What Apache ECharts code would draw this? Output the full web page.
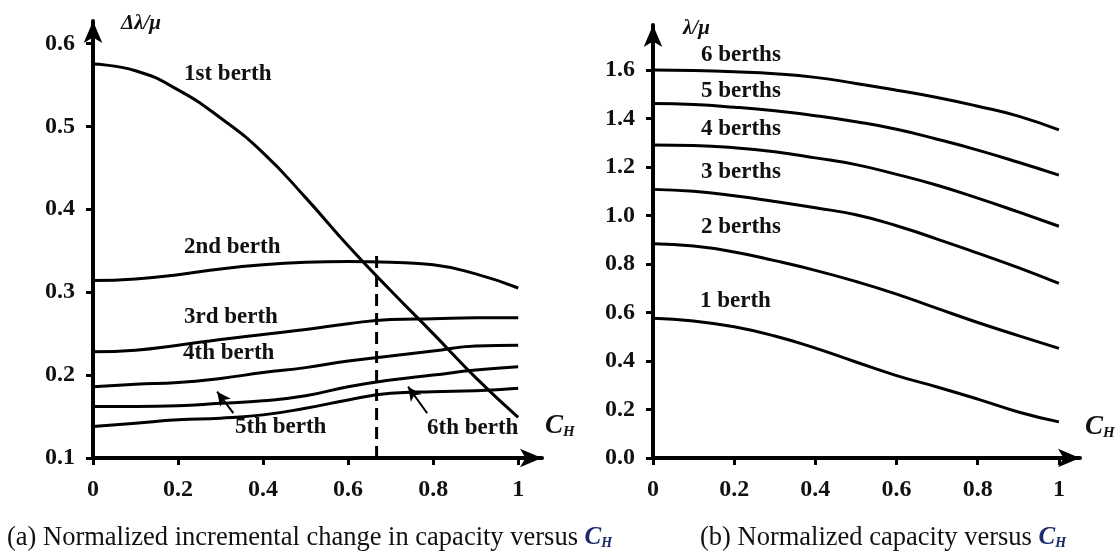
<!DOCTYPE html>
<html>
<head>
<meta charset="utf-8">
<script src="https://cdn.jsdelivr.net/npm/echarts@6/dist/echarts.min.js"></script>
<style>
    html, body { margin: 0; padding: 0; background: #fff; }
    #chart { width: 1120px; height: 554px; }
</style>
</head>
<body>
<div id="chart"></div>
<script>
// C_H sample points
var cH = [0, 0.1, 0.2, 0.3, 0.4, 0.5, 0.6, 0.7, 0.8, 0.9, 1];

// (a) normalized incremental change in capacity
var incr1st = [0.575, 0.567, 0.544, 0.51, 0.468, 0.414, 0.356, 0.302, 0.25, 0.197, 0.149];
var incr2nd = [0.314, 0.316, 0.321, 0.328, 0.333, 0.336, 0.337, 0.336, 0.333, 0.322, 0.305];
var incr3rd = [0.228, 0.23, 0.236, 0.243, 0.249, 0.255, 0.262, 0.267, 0.268, 0.269, 0.269];
var incr4th = [0.186, 0.189, 0.191, 0.196, 0.203, 0.209, 0.217, 0.223, 0.229, 0.235, 0.236];
var incr5th = [0.162, 0.162, 0.163, 0.166, 0.169, 0.175, 0.186, 0.194, 0.2, 0.206, 0.21];
var incr6th = [0.138, 0.142, 0.146, 0.148, 0.152, 0.16, 0.17, 0.178, 0.18, 0.181, 0.184];

// dashed cut at C_H = 2/3
var cutX = [0.667, 0.667];
var cutY = [0.1, 0.347];

// pointer arrows for 5th / 6th berth labels [tail, tip]
var arrow5th = [[0.33, 0.154], [0.292, 0.18]];
var arrow6th = [[0.786, 0.154], [0.741, 0.186]];

// (b) normalized capacity
var cap1 = [0.576, 0.565, 0.541, 0.503, 0.453, 0.396, 0.34, 0.293, 0.243, 0.19, 0.149];
var cap2 = [0.884, 0.874, 0.85, 0.814, 0.774, 0.728, 0.676, 0.617, 0.559, 0.505, 0.452];
var cap3 = [1.108, 1.1, 1.082, 1.058, 1.032, 1.003, 0.958, 0.903, 0.845, 0.785, 0.72];
var cap4 = [1.291, 1.289, 1.28, 1.263, 1.238, 1.21, 1.17, 1.125, 1.072, 1.015, 0.956];
var cap5 = [1.462, 1.458, 1.447, 1.432, 1.412, 1.387, 1.356, 1.315, 1.27, 1.22, 1.167];
var cap6 = [1.6, 1.598, 1.593, 1.585, 1.57, 1.545, 1.517, 1.487, 1.451, 1.41, 1.353];

// tick labels
var xTicks = [0, 0.2, 0.4, 0.6, 0.8, 1];
var leftYTicks = [0.1, 0.2, 0.3, 0.4, 0.5, 0.6];
var rightYTicks = [0, 0.2, 0.4, 0.6, 0.8, 1.0, 1.2, 1.4, 1.6];

var chart = echarts.init(document.getElementById("chart"));

var tickFont = {
    fontFamily: "Liberation Serif",
    fontWeight: "bold",
    fontSize: 24,
    color: "#111"
};

function pairs(ys) {
    var out = [];
    for (var i = 0; i < cH.length; i++) {
        out.push([cH[i], ys[i]]);
    }
    return out;
}

function curve(ys, idx, extra) {
    var s = {
        type: "line",
        xAxisIndex: idx,
        yAxisIndex: idx,
        data: pairs(ys),
        smooth: 0.5,
        showSymbol: false,
        lineStyle: { color: "#000", width: 3 },
        silent: true
    };
    if (extra) s.markLine = extra;
    return s;
}

function pointer(arr) {
    return {
        silent: true,
        symbol: ["none", "arrow"],
        symbolSize: [10, 14],
        label: { show: false },
        lineStyle: { color: "#000", width: 2, type: "solid" },
        data: [[{ coord: arr[0] }, { coord: arr[1] }]]
    };
}

function xAxisCfg(idx, max) {
    return {
        type: "value",
        gridIndex: idx,
        min: 0,
        max: max,
        axisLine: { lineStyle: { color: "#000", width: 4 }, symbol: ["none", "arrow"], symbolSize: [14, 22] },
        axisTick: { customValues: xTicks, length: 7, lineStyle: { color: "#000", width: 3 } },
        axisLabel: Object.assign({
            customValues: xTicks,
            margin: 20,
            formatter: function(v) { return String(v); }
        }, tickFont),
        splitLine: { show: false }
    };
}

function yAxisCfg(idx, min, max, ticks, fmt) {
    return {
        type: "value",
        gridIndex: idx,
        min: min,
        max: max,
        axisLine: { show: true, lineStyle: { color: "#000", width: 4 }, symbol: ["none", "arrow"], symbolSize: [14, 22] },
        axisTick: { show: true, customValues: ticks, length: 7, lineStyle: { color: "#000", width: 3 } },
        axisLabel: Object.assign({ customValues: ticks, margin: 18, formatter: fmt }, tickFont),
        splitLine: { show: false }
    };
}

var labelFont = "bold 23px 'Liberation Serif'";
function note(text, x, y) {
    return {
        type: "text", x: x, y: y, silent: true,
        style: { text: text, font: labelFont, fill: "#111", verticalAlign: "middle" }
    };
}

function chTitle(x, y) {
    return {
        type: "text", x: x, y: y, silent: true,
        style: {
            text: "{c|C}{h|H}",
            verticalAlign: "middle",
            rich: {
                c: { font: "italic bold 27px 'Liberation Serif'", fill: "#111" },
                h: { font: "italic bold 15px 'Liberation Serif'", fill: "#111", padding: [12, 0, 0, 0] }
            }
        }
    };
}

function caption(text, x, y) {
    return {
        type: "text", x: x, y: y, silent: true,
        style: {
            text: "{t|" + text + "}  {c|C}{h|H}",
            verticalAlign: "middle",
            rich: {
                t: { font: "26.5px 'Liberation Serif'", fill: "#111" },
                c: { font: "italic bold 25px 'Liberation Serif'", fill: "#1a2a6a" },
                h: { font: "italic bold 14px 'Liberation Serif'", fill: "#1a2a6a", padding: [10, 0, 0, 0] }
            }
        }
    };
}

var option = {
    animation: false,
    backgroundColor: "#fff",
    grid: [
        { left: 93, top: 21, width: 449, height: 437 },
        { left: 653, top: 25, width: 427, height: 433 }
    ],
    xAxis: [xAxisCfg(0, 1.056), xAxisCfg(1, 1.052)],
    yAxis: [
        yAxisCfg(0, 0.1, 0.627, leftYTicks, function(v) { return v.toFixed(1); }),
        yAxisCfg(1, 0, 1.786, rightYTicks, function(v) { return v.toFixed(1); })
    ],
    series: [
        curve(incr1st, 0),
        curve(incr2nd, 0),
        curve(incr3rd, 0),
        curve(incr4th, 0),
        curve(incr5th, 0, pointer(arrow5th)),
        curve(incr6th, 0, pointer(arrow6th)),
        {
            type: "line",
            xAxisIndex: 0,
            yAxisIndex: 0,
            data: [[cutX[0], cutY[0]], [cutX[1], cutY[1]]],
            showSymbol: false,
            silent: true,
            lineStyle: { color: "#000", width: 3, type: [12, 7] }
        },
        curve(cap1, 1),
        curve(cap2, 1),
        curve(cap3, 1),
        curve(cap4, 1),
        curve(cap5, 1),
        curve(cap6, 1)
    ],
    graphic: [
        {
            type: "text", x: 121, y: 24, silent: true,
            style: { text: "Δλ/μ", font: "italic bold 21px 'Liberation Serif'", fill: "#111", verticalAlign: "middle" }
        },
        {
            type: "text", x: 683, y: 29, silent: true,
            style: { text: "λ/μ", font: "italic bold 21px 'Liberation Serif'", fill: "#111", verticalAlign: "middle" }
        },
        chTitle(545, 426),
        chTitle(1085, 427),
        note("1st berth", 184, 74),
        note("2nd berth", 184, 247),
        note("3rd berth", 184, 317),
        note("4th berth", 183, 353),
        note("5th berth", 235, 427),
        note("6th berth", 427, 428),
        note("6 berths", 701, 55),
        note("5 berths", 701, 91),
        note("4 berths", 701, 129),
        note("3 berths", 701, 172),
        note("2 berths", 701, 227),
        note("1 berth", 700, 301),
        caption("(a) Normalized incremental change in capacity versus", 7, 538),
        caption("(b) Normalized capacity versus", 700, 538)
    ]
};

chart.setOption(option);
</script>
</body>
</html>
